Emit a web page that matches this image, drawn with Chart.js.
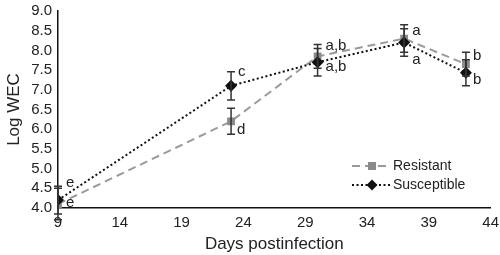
<!DOCTYPE html>
<html><head><meta charset="utf-8">
<script src="https://cdn.jsdelivr.net/npm/chart.js@4"></script>
<style>html,body{margin:0;padding:0;background:#fff}#wrap{width:500px;height:255px}</style>
</head><body><div id="wrap"><canvas id="c" width="500" height="255"></canvas></div>
<script>
const days = [9, 23, 30, 37, 42];
const resistant = [4.1, 6.2, 7.85, 8.3, 7.65];
const resistantErr = [0.4, 0.33, 0.3, 0.35, 0.3];
const susceptible = [4.2, 7.1, 7.7, 8.2, 7.43];
const susceptibleErr = [0.35, 0.36, 0.35, 0.35, 0.33];
const resistantLetters = ["e", "d", "a,b", "a", "b"];
const susceptibleLetters = ["e", "c", "a,b", "a", "b"];
const xTicks = [9, 14, 19, 24, 29, 34, 39, 44];
const yTicks = [4.0, 4.5, 5.0, 5.5, 6.0, 6.5, 7.0, 7.5, 8.0, 8.5, 9.0];
const seriesNames = ["Resistant", "Susceptible"];

const FONT = "'Liberation Sans', Arial, sans-serif";

const mk = (xs, ys) => xs.map((x, i) => ({x, y: ys[i]}));

// letter offsets relative to point (px): [dx, dy]
const rOff = [[8, -1], [6, 9], [8, -10], [8, -8], [7, -8]];
const sOff = [[8, -17], [7, -14], [8, 5], [8, 17], [7, 7]];

const errPlugin = {
  id: 'errbars',
  afterDatasetsDraw(chart) {
    const ctx = chart.ctx, xs = chart.scales.x, ys = chart.scales.y;
    const errs = [resistantErr, susceptibleErr];
    const vals = [resistant, susceptible];
    ctx.save();
    ctx.strokeStyle = '#333';
    ctx.lineWidth = 1.5;
    for (let s = 0; s < 2; s++) {
      days.forEach((d, i) => {
        const px = xs.getPixelForValue(d);
        const y1 = ys.getPixelForValue(vals[s][i] + errs[s][i]);
        const y2 = ys.getPixelForValue(vals[s][i] - errs[s][i]);
        ctx.beginPath();
        ctx.moveTo(px, y1); ctx.lineTo(px, y2);
        ctx.moveTo(px - 4, y1); ctx.lineTo(px + 4, y1);
        ctx.moveTo(px - 4, y2); ctx.lineTo(px + 4, y2);
        ctx.stroke();
      });
    }
    ctx.restore();
  },
  afterDraw(chart) {
    const ctx = chart.ctx, xs = chart.scales.x, ys = chart.scales.y;
    ctx.save();
    ctx.fillStyle = '#222';
    ctx.font = '15px ' + FONT;
    ctx.textBaseline = 'middle';
    ctx.textAlign = 'left';
    days.forEach((d, i) => {
      const px = xs.getPixelForValue(d);
      ctx.fillText(resistantLetters[i], px + rOff[i][0], ys.getPixelForValue(resistant[i]) + rOff[i][1]);
      ctx.fillText(susceptibleLetters[i], px + sOff[i][0], ys.getPixelForValue(susceptible[i]) + sOff[i][1]);
    });
    // legend
    const lx = 352, ly = [166, 185];
    const dsets = chart.data.datasets;
    ctx.font = '14px ' + FONT;
    for (let s = 0; s < 2; s++) {
      const ds = dsets[s];
      ctx.save();
      ctx.strokeStyle = ds.borderColor;
      ctx.lineWidth = ds.borderWidth;
      ctx.setLineDash(ds.borderDash);
      ctx.beginPath(); ctx.moveTo(lx, ly[s]); ctx.lineTo(lx + 38, ly[s]); ctx.stroke();
      ctx.restore();
      ctx.fillStyle = ds.pointBackgroundColor;
      ctx.beginPath();
      if (s === 0) { ctx.rect(lx + 16, ly[s] - 4, 8, 8); }
      else { ctx.moveTo(lx + 20, ly[s] - 5.5); ctx.lineTo(lx + 25.5, ly[s]); ctx.lineTo(lx + 20, ly[s] + 5.5); ctx.lineTo(lx + 14.5, ly[s]); ctx.closePath(); }
      ctx.fill();
      ctx.fillStyle = '#222';
      ctx.fillText(seriesNames[s], lx + 41, ly[s]);
    }
    ctx.restore();
  }
};

new Chart(document.getElementById('c'), {
  type: 'scatter',
  data: {
    datasets: [
      {
        label: seriesNames[0], data: mk(days, resistant), showLine: true,
        borderColor: '#9a9a9a', borderWidth: 2, borderDash: [8, 5],
        pointStyle: 'rect', pointRadius: 5.5, pointBackgroundColor: '#8a8a8a', pointBorderWidth: 0,
        order: 2
      },
      {
        label: seriesNames[1], data: mk(days, susceptible), showLine: true,
        borderColor: '#111', borderWidth: 2, borderDash: [2, 2.5],
        pointStyle: 'rectRot', pointRadius: 6, pointBackgroundColor: '#111', pointBorderWidth: 0,
        order: 1
      }
    ]
  },
  options: {
    responsive: false, animation: false,
    devicePixelRatio: 1,
    layout: {padding: {top: 7, right: 8, left: 0, bottom: 0}},
    plugins: {legend: {display: false}, tooltip: {enabled: false}},
    scales: {
      x: {
        type: 'linear', min: 9, max: 44,
        afterBuildTicks: (sc) => { sc.ticks = xTicks.map(v => ({value: v})); },
        afterFit: (sc) => { sc.height = 47; },
        grid: {display: false, drawTicks: true, tickLength: 5, tickColor: '#111'},
        border: {display: true, color: '#111', width: 1.5},
        ticks: {color: '#222', font: {size: 15, family: FONT}, padding: 1, maxRotation: 0, autoSkip: false},
        title: {display: true, text: 'Days postinfection', color: '#222', font: {size: 17, family: FONT}, padding: {top: 0, bottom: 0}}
      },
      y: {
        min: 4, max: 9,
        afterBuildTicks: (sc) => { sc.ticks = yTicks.map(v => ({value: v})); },
        afterFit: (sc) => { sc.width = 58; },
        grid: {display: false, drawTicks: true, tickLength: 4, tickColor: '#111'},
        border: {display: true, color: '#111', width: 1.5},
        ticks: {color: '#222', font: {size: 15, family: FONT}, padding: 2, autoSkip: false, callback: (v) => Number(v).toFixed(1)},
        title: {display: true, text: 'Log WEC', color: '#222', font: {size: 17, family: FONT}, padding: {top: 4, bottom: 2}}
      }
    }
  },
  plugins: [errPlugin]
});
</script>
</body></html>
